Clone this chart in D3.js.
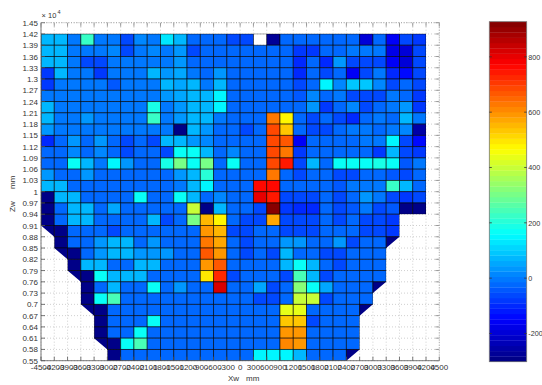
<!DOCTYPE html>
<html><head><meta charset="utf-8">
<script src="https://cdn.jsdelivr.net/npm/d3@7"></script>
<style>body{margin:0;background:#fff}text{font-family:"Liberation Sans",Arial,sans-serif;fill:#333}</style>
</head><body><svg id="c" width="542" height="385"></svg>
<script>
const xTicks = [-4500,-4200,-3900,-3600,-3300,-3000,-2700,-2400,-2100,-1800,-1500,-1200,-900,-600,-300,0,300,600,900,1200,1500,1800,2100,2400,2700,3000,3300,3600,3900,4200,4500];
const yTicks = [0.55,0.58,0.61,0.64,0.67,0.7,0.73,0.76,0.79,0.82,0.85,0.88,0.91,0.94,0.97,1,1.03,1.06,1.09,1.12,1.15,1.18,1.21,1.24,1.27,1.3,1.33,1.36,1.39,1.42,1.45];
const colorTicks = [-200,0,200,400,600,800];
const colorDomain = [-302, 927];
// rows from top (1.39-1.42) to bottom (0.55-0.58); columns from -4500 to 4200
const values = [
[80,80,-10,230,5,0,-70,20,-5,130,80,-15,-15,-15,-70,-70,null,-270,-15,-15,-15,-15,-15,-15,-190,-15,-160,-70,-90],
[80,80,-10,-10,-10,15,-60,5,15,5,35,-55,-15,-15,-15,-15,-15,-15,-15,-90,-90,-15,-15,5,5,5,-170,-200,-55],
[70,80,-10,-60,-70,-10,-10,5,-10,5,35,-15,-15,-15,-15,-15,-15,-15,-15,-100,-15,-100,40,-55,-55,-55,-150,-200,-55],
[-80,80,-10,-10,-75,-10,-10,-10,80,40,50,5,-15,30,-15,-15,-15,-15,-15,-100,-15,-55,-15,-155,-55,5,-100,-130,-55],
[-90,-10,-10,-10,-10,-40,-10,-10,-10,80,60,80,5,80,-15,-15,-15,-15,-15,-55,-15,140,20,100,100,20,-55,-15,-55],
[-10,-10,-10,-10,-10,-10,-10,-10,5,35,60,80,80,150,-15,-15,-15,-15,-15,-45,20,-15,5,-55,-55,-55,5,-15,-90],
[80,-10,-10,-10,-10,-10,-10,-10,180,5,35,80,70,150,-15,-15,-15,-15,-15,-15,35,-90,-15,20,-55,-15,5,35,-90],
[80,-10,-10,40,-10,-10,-10,-10,230,-10,35,80,70,5,-15,-15,-15,620,480,-15,-70,-15,-55,-100,-15,5,-15,80,5],
[40,5,5,-10,-10,-10,-10,-10,-10,-10,-290,80,35,-15,-15,-60,-15,680,540,-15,-70,-55,-15,5,5,-15,5,20,-260],
[-100,-15,40,-15,40,-15,-60,-15,-55,80,80,35,20,-15,-15,-15,-15,690,670,-150,-15,-30,-15,-15,5,5,150,-55,-130],
[-25,-15,20,-15,20,-15,-70,-15,-15,-55,170,170,80,-15,20,-15,-15,680,620,-90,-15,-15,-15,-15,-15,-80,80,-70,-90],
[-15,-15,160,80,5,150,35,-15,-15,180,310,160,300,-15,165,-15,-15,680,750,-55,80,-15,160,160,160,180,160,-45,5],
[35,-15,-15,35,-15,-15,-15,-15,-15,-15,35,80,200,-15,-15,-15,-15,630,-15,-55,-15,-15,-70,-70,-15,-25,-45,-70,-15],
[80,80,-15,-15,-15,-15,-15,-15,-15,-15,5,80,140,-15,-15,-15,770,770,-15,-15,-15,-15,-45,5,5,5,230,80,-15],
[-290,80,80,-15,-15,-15,-15,160,-15,-15,160,80,-15,20,-15,-15,810,750,-60,-60,-60,-15,-55,-15,35,5,-70,-90,-55],
[-290,-15,80,80,-15,50,-15,-15,-15,-15,-15,400,-290,80,-15,-15,-55,920,-90,-100,-100,-15,-55,-45,5,-70,-45,-290,-290],
[-290,-15,80,80,-15,-15,-15,-15,80,-55,-15,310,560,480,-15,-55,-55,580,-55,-70,-55,-15,-55,-15,-55,-70,-90,null,null],
[-290,-290,-15,-15,-15,-55,-15,-15,-15,-15,-15,-15,590,560,-55,-55,-15,-15,-55,-70,-70,-15,-15,-15,-55,-55,-90,null,null],
[null,-290,-15,-15,35,80,80,-15,35,-15,-15,-15,620,570,-15,-55,-15,-15,35,35,-15,-15,35,-55,-15,-15,-290,null,null],
[null,-290,-290,-15,35,80,80,35,35,35,-15,-15,670,590,-15,-55,-15,-55,80,-15,-15,-55,-55,-15,-15,-15,null,null,null],
[null,null,-290,80,80,-15,-15,80,80,-15,-15,-15,590,670,-15,-15,-15,-15,80,160,80,-15,-55,-15,-15,-15,null,null,null],
[null,null,-290,-290,160,80,80,80,-15,-15,-15,-15,490,730,-55,-15,-15,-15,-55,240,80,-55,-15,-15,-15,-15,null,null,null],
[null,null,null,-290,-15,80,-15,-15,160,-15,35,-15,-15,830,-15,-15,50,-55,-15,320,170,50,-15,-15,-15,-290,null,null,null],
[null,null,null,-290,160,240,-15,-15,-15,-15,-15,-15,-15,-15,-15,-15,-55,-55,-15,390,390,-55,-15,-15,-15,null,null,null,null],
[null,null,null,-290,-290,-15,-15,-15,-15,-15,-15,-15,-15,-15,-15,-15,-15,-15,440,430,-15,-15,-15,-15,-290,null,null,null,null],
[null,null,null,null,-290,-15,-15,-15,160,-15,-15,-15,-15,-15,-15,-15,-15,-15,540,540,-55,-15,-15,-15,null,null,null,null,null],
[null,null,null,null,-290,-15,-15,160,-15,-15,-15,-15,-15,-15,-15,-15,-15,-15,590,600,-15,-15,-15,-15,null,null,null,null,null],
[null,null,null,null,-290,-290,160,240,-15,-15,-15,-15,-15,-15,-15,-15,-15,-15,610,600,-15,-15,-15,-15,null,null,null,null,null],
[null,null,null,null,null,-290,-15,-15,-15,-15,-15,-15,-15,-15,-15,-15,140,140,140,80,-15,-15,-15,-290,null,null,null,null,null]
];
// outline of the measured region (Xw mm, Zw x1e4 mm)
const boundary = [[-4500,1.42],[4200,1.42],[4200,0.94],[3600,0.94],[3600,0.88],[3300,0.85],[3300,0.76],[3000,0.73],[3000,0.70],[2700,0.67],[2700,0.58],[2400,0.55],[-3000,0.55],[-3000,0.58],[-3300,0.61],[-3300,0.67],[-3600,0.70],[-3600,0.76],[-3900,0.79],[-3900,0.82],[-4200,0.85],[-4200,0.88],[-4500,0.91]];

const svg = d3.select("#c");
const x = d3.scaleLinear().domain([xTicks[0], xTicks[xTicks.length-1]]).range([41, 439.3]);
const y = d3.scaleLinear().domain([yTicks[0], yTicks[yTicks.length-1]]).range([360.7, 22.7]);
const jet = t => { const c = v => Math.max(0, Math.min(1, v)); return d3.rgb(255*c(1.5-Math.abs(4*t-3)), 255*c(1.5-Math.abs(4*t-2)), 255*c(1.5-Math.abs(4*t-1))).formatHex(); };
const nC = 64;
const color = d3.scaleQuantize().domain(colorDomain).range(d3.range(nC).map(k => jet((k+0.5)/nC)));

// grid
const grid = svg.append("g").attr("stroke","#c4c4c4").attr("stroke-width",0.8).attr("stroke-dasharray","1,2");
xTicks.forEach(v => grid.append("line").attr("x1",x(v)).attr("x2",x(v)).attr("y1",y(yTicks[0])).attr("y2",y(yTicks[yTicks.length-1])));
yTicks.forEach(v => grid.append("line").attr("y1",y(v)).attr("y2",y(v)).attr("x1",x(xTicks[0])).attr("x2",x(xTicks[xTicks.length-1])));

// clip
svg.append("clipPath").attr("id","clip").append("path")
  .attr("d", d3.line().x(d=>x(d[0])).y(d=>y(d[1]))(boundary) + "Z");

const cells = [];
const nRows = values.length;
values.forEach((row, i) => row.forEach((v, j) => {
  if (v === null) return;
  cells.push({x0: xTicks[j], x1: xTicks[j+1], yTop: yTicks[nRows - i], yBot: yTicks[nRows - i - 1], v});
}));
svg.append("line").attr("x1",x(xTicks[0])).attr("x2",x(xTicks[xTicks.length-2])).attr("y1",y(yTicks[nRows])).attr("y2",y(yTicks[nRows])).attr("stroke","#aaa").attr("stroke-width",1);
svg.append("g").attr("clip-path","url(#clip)").selectAll("rect").data(cells).join("rect")
  .attr("x", d => x(d.x0)).attr("y", d => y(d.yTop))
  .attr("width", d => x(d.x1) - x(d.x0)).attr("height", d => y(d.yBot) - y(d.yTop))
  .attr("fill", d => color(d.v)).attr("stroke","#000").attr("stroke-opacity",0.65).attr("stroke-width",0.9);

// axes
const ax = svg.append("g").attr("stroke","#555").attr("stroke-width",0.8);
const X0 = x(xTicks[0]), X1 = x(xTicks[xTicks.length-1]), Y0 = y(yTicks[0]), Y1 = y(yTicks[yTicks.length-1]);
ax.append("line").attr("x1",X0).attr("x2",X0).attr("y1",Y0).attr("y2",Y1);
ax.append("line").attr("x1",X0).attr("x2",X1).attr("y1",Y0).attr("y2",Y0);
const bx = svg.append("g").attr("stroke","#999").attr("stroke-width",0.8).attr("stroke-dasharray","1,1.5");
bx.append("line").attr("x1",X1).attr("x2",X1).attr("y1",Y0).attr("y2",Y1);
bx.append("line").attr("x1",X0).attr("x2",X1).attr("y1",Y1).attr("y2",Y1);
xTicks.forEach(v => {
  ax.append("line").attr("x1",x(v)).attr("x2",x(v)).attr("y1",Y0).attr("y2",Y0-4);
  ax.append("line").attr("x1",x(v)).attr("x2",x(v)).attr("y1",Y1).attr("y2",Y1+4).attr("stroke","#888");
});
yTicks.forEach(v => {
  ax.append("line").attr("y1",y(v)).attr("y2",y(v)).attr("x1",X0).attr("x2",X0+4);
  ax.append("line").attr("y1",y(v)).attr("y2",y(v)).attr("x1",X1).attr("x2",X1-4).attr("stroke","#888");
});
const fs = 8;
svg.append("g").selectAll("text").data(xTicks).join("text")
  .attr("x", d => x(d)).attr("y", 370).attr("text-anchor","middle").attr("font-size",fs).text(d => d);
svg.append("g").selectAll("text").data(yTicks).join("text")
  .attr("x", 38).attr("y", d => y(d) + 3).attr("text-anchor","end").attr("font-size",fs).text(d => d);
svg.append("text").attr("x",41.5).attr("y",18.3).attr("font-size",7.5).text("× 10");
svg.append("text").attr("x",57.5).attr("y",13.5).attr("font-size",5.5).text("4");
svg.append("text").attr("x",228).attr("y",380.5).attr("font-size",fs).text("Xw");
svg.append("text").attr("x",246).attr("y",380.5).attr("font-size",fs).text("mm");
svg.append("text").attr("transform","translate(14.5,212) rotate(-90)").attr("font-size",fs).text("Zw");
svg.append("text").attr("transform","translate(14.5,189) rotate(-90)").attr("font-size",fs).text("mm");

// colorbar
const cbX = 489.3, cbW = 37.4;
const cy = d3.scaleLinear().domain(colorDomain).range([361.7, 21.7]);
const bands = color.range().map((c,k) => ({c, lo: colorDomain[0] + k*(colorDomain[1]-colorDomain[0])/nC, hi: colorDomain[0] + (k+1)*(colorDomain[1]-colorDomain[0])/nC}));
svg.append("g").selectAll("rect").data(bands).join("rect")
  .attr("x", cbX).attr("width", cbW).attr("y", d => cy(d.hi)).attr("height", d => cy(d.lo) - cy(d.hi) + 0.3).attr("fill", d => d.c);
svg.append("rect").attr("x",cbX).attr("y",cy(colorDomain[1])).attr("width",cbW).attr("height",cy(colorDomain[0])-cy(colorDomain[1])).attr("fill","none").attr("stroke","#777").attr("stroke-width",0.8);
colorTicks.forEach(v => {
  svg.append("line").attr("x1",cbX).attr("x2",cbX+2.5).attr("y1",cy(v)).attr("y2",cy(v)).attr("stroke","#333").attr("stroke-width",0.8);
  svg.append("line").attr("x1",cbX+cbW-2.5).attr("x2",cbX+cbW).attr("y1",cy(v)).attr("y2",cy(v)).attr("stroke","#333").attr("stroke-width",0.8);
});
svg.append("g").selectAll("text").data(colorTicks).join("text")
  .attr("x", 528.3).attr("y", d => cy(d) + 2.7).attr("font-size",7.2).text(d => d);
</script></body></html>
